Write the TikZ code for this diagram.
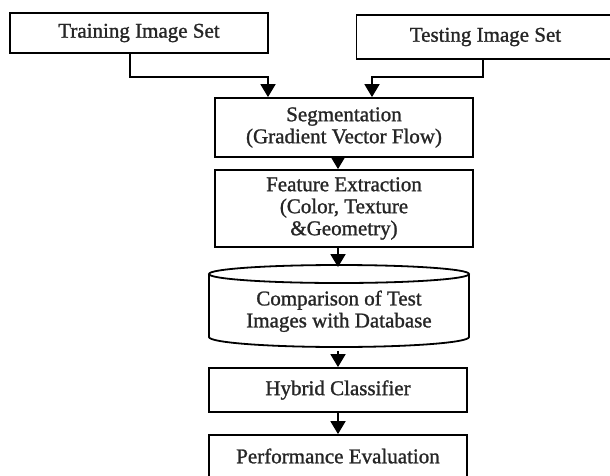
\documentclass[tikz,border=0pt]{standalone}
\usepackage{fontspec}
\setmainfont{Liberation Serif}[FakeBold=1.2]
\usetikzlibrary{arrows.meta}
\begin{document}
\begin{tikzpicture}[x=1pt,y=-1pt,
  line/.style={line width=1.8pt, draw=black},
  box/.style={line, rectangle, inner sep=0pt, align=center,
    font=\fontsize{21}{22}\selectfont, text=black!85},
  arr/.style={line, -{Triangle[width=15pt,length=13pt]}},
]
\useasboundingbox (0,0) rectangle (610,475);
\fill[white] (0,0) rectangle (610,475);

\node[box, minimum width=258pt, minimum height=40pt] (train) at (139,33) {Training Image Set};
\node[box, minimum width=258pt, minimum height=44pt] (test) at (485.5,37) {Testing Image Set};
\node[box, minimum width=258pt, minimum height=59pt] (seg) at (344,127.5) {Segmentation\\(Gradient Vector Flow)};
\node[box, minimum width=258pt, minimum height=77pt] (feat) at (344,208.5) {Feature Extraction\\(Color, Texture\\\&Geometry)};
\node[box, draw=none, minimum width=260pt, minimum height=82pt, text depth=0pt] (cyl) at (339,309) {Comparison of Test\\Images with Database};
\node[box, minimum width=258pt, minimum height=44pt] (hyb) at (338,390) {Hybrid Classifier};
\node[box, minimum width=258pt, minimum height=42pt] (perf) at (338,456) {Performance Evaluation};

% cylinder outline
\draw[line] (339,274) ellipse [x radius=130pt, y radius=9pt];
\draw[line] (209,274) -- (209,337) arc[start angle=180, end angle=360, x radius=130pt, y radius=10pt] -- (469,274);

\coordinate (ax) at (338,0);
\coordinate (tx) at (130,0);
\coordinate (tj) at (268,77);
\coordinate (sx) at (483,0);
\coordinate (sj) at (372,77);

\draw[arr] (train.south -| tx) |- (tj) -- (seg.north -| tj);
\draw[arr] (test.south -| sx) |- (sj) -- (seg.north -| sj);
\draw[arr] (seg.south -| ax) -- (feat.north -| ax);
\draw[arr] (feat.south -| ax) -- (cyl.north -| ax);
\draw[arr] (cyl.south -| ax) -- (hyb.north -| ax);
\draw[arr] (hyb.south -| ax) -- (perf.north -| ax);
\end{tikzpicture}
\end{document}
